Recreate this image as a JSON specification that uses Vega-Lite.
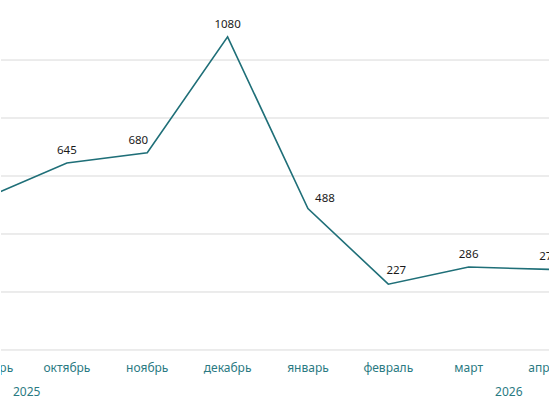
{
  "$schema": "https://vega.github.io/schema/vega-lite/v6.json",
  "width": 550,
  "height": 410,
  "autosize": {"type": "fit", "contains": "padding"},
  "padding": 0,
  "background": "white",
  "config": {"view": {"stroke": null}},
  "datasets": {
    "series": [
      {"i": 0, "month": "сентябрь", "value": 525},
      {"i": 1, "month": "октябрь", "value": 645},
      {"i": 2, "month": "ноябрь", "value": 680},
      {"i": 3, "month": "декабрь", "value": 1080},
      {"i": 4, "month": "январь", "value": 488},
      {"i": 5, "month": "февраль", "value": 227},
      {"i": 6, "month": "март", "value": 286},
      {"i": 7, "month": "апрель", "value": 278}
    ],
    "grid": [{"v": 0}, {"v": 200}, {"v": 400}, {"v": 600}, {"v": 800}, {"v": 1000}],
    "years": [{"i": 0.5, "year": "2025"}, {"i": 6.5, "year": "2026"}]
  },
  "layer": [
    {
      "data": {"name": "grid"},
      "mark": {"type": "rule", "color": "#d9d9d9", "strokeWidth": 1},
      "encoding": {
        "y": {"field": "v", "type": "quantitative", "scale": {"domain": [-207, 1207], "nice": false, "zero": false}, "axis": null}
      }
    },
    {
      "data": {"name": "series"},
      "mark": {"type": "line", "color": "#1f6f78", "strokeWidth": 1.6, "clip": true},
      "encoding": {
        "x": {"field": "i", "type": "quantitative", "scale": {"domain": [0.18, 7.0], "nice": false, "zero": false}, "axis": null},
        "y": {"field": "value", "type": "quantitative"}
      }
    },
    {
      "data": {"name": "series"},
      "transform": [{"filter": "datum.month !== 'январь' && datum.month !== 'ноябрь' && datum.month !== 'февраль'"}],
      "mark": {"type": "text", "fontSize": 11.5, "font": "Noto Sans", "color": "#1a1a1a", "baseline": "middle", "dy": -12, "clip": true},
      "encoding": {
        "x": {"field": "i", "type": "quantitative"},
        "y": {"field": "value", "type": "quantitative"},
        "text": {"field": "value", "type": "quantitative", "format": "d"}
      }
    },
    {
      "data": {"name": "series"},
      "transform": [{"filter": "datum.month === 'ноябрь'"}],
      "mark": {"type": "text", "fontSize": 11.5, "font": "Noto Sans", "color": "#1a1a1a", "baseline": "middle", "dy": -12, "dx": -9, "clip": true},
      "encoding": {
        "x": {"field": "i", "type": "quantitative"},
        "y": {"field": "value", "type": "quantitative"},
        "text": {"field": "value", "type": "quantitative", "format": "d"}
      }
    },
    {
      "data": {"name": "series"},
      "transform": [{"filter": "datum.month === 'январь'"}],
      "mark": {"type": "text", "fontSize": 11.5, "font": "Noto Sans", "color": "#1a1a1a", "baseline": "middle", "dy": -9, "dx": 17, "clip": true},
      "encoding": {
        "x": {"field": "i", "type": "quantitative"},
        "y": {"field": "value", "type": "quantitative"},
        "text": {"field": "value", "type": "quantitative", "format": "d"}
      }
    },
    {
      "data": {"name": "series"},
      "transform": [{"filter": "datum.month === 'февраль'"}],
      "mark": {"type": "text", "fontSize": 11.5, "font": "Noto Sans", "color": "#1a1a1a", "baseline": "middle", "dy": -13, "dx": 8, "clip": true},
      "encoding": {
        "x": {"field": "i", "type": "quantitative"},
        "y": {"field": "value", "type": "quantitative"},
        "text": {"field": "value", "type": "quantitative", "format": "d"}
      }
    },
    {
      "data": {"name": "series"},
      "mark": {"type": "text", "fontSize": 12, "font": "Noto Sans", "color": "#2a7a82", "baseline": "middle", "clip": true},
      "encoding": {
        "x": {"field": "i", "type": "quantitative"},
        "y": {"datum": -62, "type": "quantitative"},
        "text": {"field": "month", "type": "nominal"}
      }
    },
    {
      "data": {"name": "years"},
      "mark": {"type": "text", "fontSize": 12, "font": "Noto Sans", "color": "#2a7a82", "baseline": "middle", "clip": true},
      "encoding": {
        "x": {"field": "i", "type": "quantitative"},
        "y": {"datum": -145, "type": "quantitative"},
        "text": {"field": "year", "type": "nominal"}
      }
    }
  ]
}
